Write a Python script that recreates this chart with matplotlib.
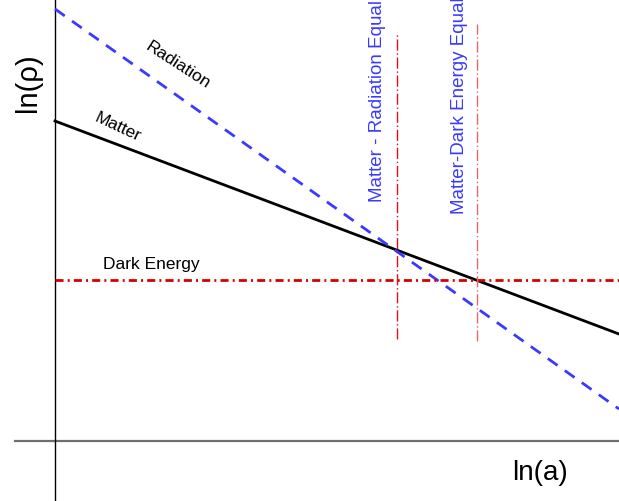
import matplotlib.pyplot as plt

plt.rcParams['font.family'] = ['Liberation Sans', 'DejaVu Sans']

# ln(a) at the two ends of the drawn range (vertical axis is at 0)
ln_a = [0.0, 5.64]
# ln(rho) of each component at those ends
matter = [3.20, 1.07]
radiation = [4.32, 0.32]
dark_energy = [1.61, 1.61]

# equality epochs: ln(a), and the span of the marker line in ln(rho)
eq_ln_a = [3.42, 4.22]
eq_top = [4.09, 4.17]
eq_bottom = [1.02, 1.00]
eq_labels = ['Matter - Radiation Equality', 'Matter-Dark Energy Equality']
eq_colors = ['#e01010', '#e06868']

fig = plt.figure(figsize=(6.19, 5.02), dpi=100)
ax = fig.add_axes([0, 0, 1, 1])
ax.set_xlim(-0.55, 5.64)
ax.set_ylim(-0.60, 4.42)
ax.axis('off')

# axes drawn by hand, crossing at the origin
ax.plot([-0.40, 5.64], [0, 0], color='#6e6e6e', lw=1.6)
ax.plot([0, 0], [-0.60, 4.42], color='black', lw=1.0)

ax.plot(ln_a, matter, color='black', lw=2.0)
ax.plot(ln_a, radiation, color='#3a3aff', lw=2.0, linestyle=(0, (4.3, 3.2)))
ax.plot(ln_a, dark_energy, color='#d40000', lw=2.0,
        linestyle=(0, (2.9, 1.5, 0.7, 1.5)))

for x, top, bot, lab, col in zip(eq_ln_a, eq_top, eq_bottom, eq_labels, eq_colors):
    ax.plot([x, x], [bot, top], color=col, lw=1.0,
            linestyle=(0, (8, 2, 1, 2)))

ax.text(3.23, 2.40, eq_labels[0], rotation=90, ha='center', va='bottom',
        fontsize=13.5, color='#3a3aff')
ax.text(4.05, 2.28, eq_labels[1], rotation=90, ha='center', va='bottom',
        fontsize=13.5, color='#3a3aff')

ax.text(1.23, 3.77, 'Radiation', rotation=-33, ha='center', va='center', fontsize=12.5)
ax.text(0.63, 3.15, 'Matter', rotation=-25, ha='center', va='center', fontsize=12.5)
ax.text(0.96, 1.77, 'Dark Energy', ha='center', va='center', fontsize=12.5)

ax.text(4.85, -0.31, 'ln(a)', ha='center', va='center', fontsize=20)
ax.text(-0.27, 3.59, 'ln(ρ)', rotation=90, ha='center', va='center', fontsize=21)

fig.savefig('out.png', dpi=100)
